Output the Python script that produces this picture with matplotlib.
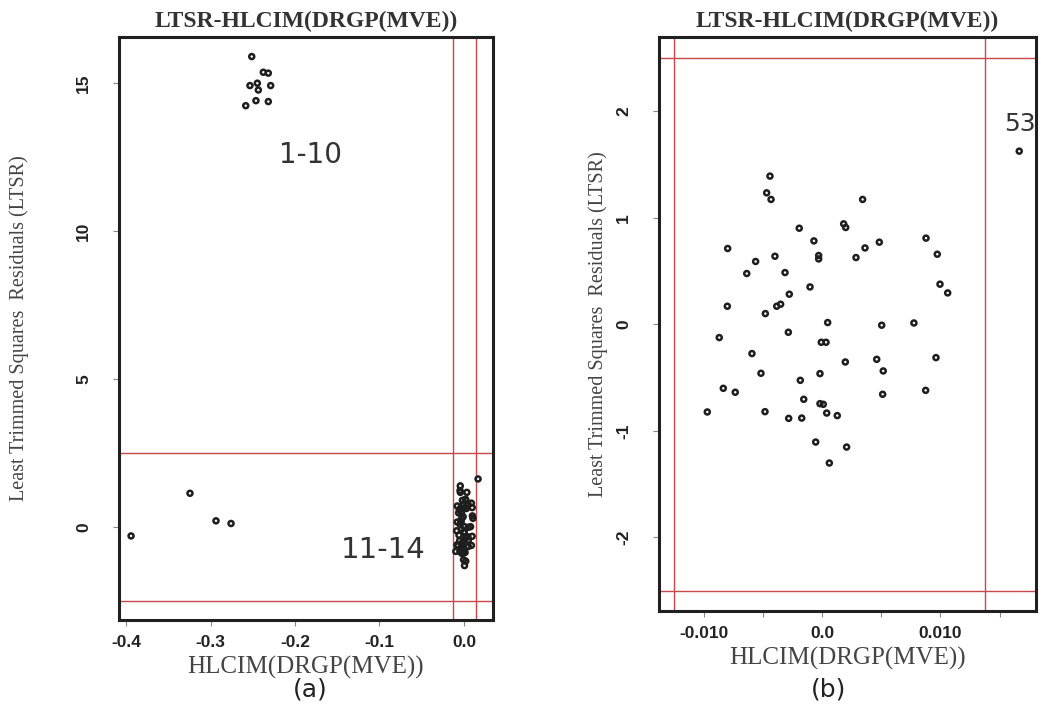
import matplotlib
matplotlib.use("Agg")
import matplotlib.pyplot as plt
import numpy as np

plt.rcParams["axes.unicode_minus"] = False

# ---- data ----
# panel (b): points near zero (HLCIM, LTSR)
near_x = [-0.00439, -0.00467, -0.00430, 0.00343, -0.00192, 0.00183, 0.00200,
          -0.00068, -0.00796, 0.00363, -0.00397, -0.00560, -0.00028, -0.00028,
          0.00287, -0.00635, -0.00312, -0.00101, -0.00276, -0.00799, -0.00382,
          -0.00349, -0.00478, 0.00048, -0.00867, -0.00284, -0.00006, 0.00034,
          -0.00591, 0.00197, -0.00515, -0.00017, -0.00183, -0.00833, -0.00732,
          -0.00154, -0.00017, 0.00011, -0.00968, -0.00481, 0.00040, 0.00129,
          -0.00281, -0.00171, -0.00053, 0.00208, 0.00062, 0.01665, 0.00484,
          0.00878, 0.00973, 0.00996, 0.01061, 0.00504, 0.00776, 0.00462,
          0.00517, 0.00962, 0.00512, 0.00875]
near_y = [1.390, 1.233, 1.171, 1.171, 0.901, 0.942, 0.908, 0.782, 0.711, 0.716,
          0.638, 0.589, 0.645, 0.613, 0.626, 0.476, 0.485, 0.350, 0.282, 0.169,
          0.169, 0.188, 0.100, 0.016, -0.125, -0.075, -0.169, -0.169, -0.275,
          -0.354, -0.460, -0.463, -0.526, -0.601, -0.638, -0.704, -0.745, -0.751,
          -0.823, -0.820, -0.833, -0.857, -0.883, -0.880, -1.105, -1.152, -1.302,
          1.624, 0.770, 0.808, 0.657, 0.376, 0.294, -0.009, 0.012, -0.329,
          -0.438, -0.313, -0.657, -0.620]

# panel (a): outlying observations 1-10 and 11-14
out1_x = [-0.2512, -0.2375, -0.2316, -0.2533, -0.2446, -0.2434, -0.2288,
          -0.2462, -0.2316, -0.2583]
out1_y = [15.89, 15.36, 15.33, 14.91, 14.99, 14.76, 14.91, 14.40, 14.37, 14.23]
out2_x = [-0.394, -0.3243, -0.2935, -0.2757]
out2_y = [-0.30, 1.14, 0.21, 0.12]

hcut = [-2.5, 2.5]
vcut = [-0.0125, 0.0138]

title = "LTSR-HLCIM(DRGP(MVE))"
xlabel = "HLCIM(DRGP(MVE))"
ylabel = "Least Trimmed Squares  Residuals (LTSR)"

a_xticks = [-0.4, -0.3, -0.2, -0.1, 0.0]
a_xticklabels = ["-0.4", "-0.3", "-0.2", "-0.1", "0.0"]
a_yticks = [0, 5, 10, 15]
b_xticks = [-0.010, -0.005, 0.0, 0.005, 0.010, 0.015]
b_xticklabels = ["-0.010", "", "0.0", "", "0.010", ""]
b_yticks = [-2, -1, 0, 1, 2]

# ---- figure ----
fig = plt.figure(figsize=(10.42, 7.13), dpi=100)
ax_a = fig.add_axes([0.1142, 0.1304, 0.3589, 0.8177])
ax_b = fig.add_axes([0.6324, 0.1431, 0.3618, 0.8050])

red = "#c8474a"
ptcol = "#1e1e1e"
serif = ["Liberation Serif", "DejaVu Serif"]
sansb = ["Liberation Sans", "DejaVu Sans"]

def style(ax, ylabelpad):
    for s in ax.spines.values():
        s.set_linewidth(2.2)
        s.set_color("#202020")
    ax.tick_params(direction="out", length=4, width=0.8, color="#888888",
                   labelsize=12.5)
    ax.tick_params(axis="x", pad=7)
    ax.tick_params(axis="y", pad=16)
    for lab in ax.get_xticklabels() + ax.get_yticklabels():
        lab.set_fontfamily(sansb)
        lab.set_fontweight("bold")
        lab.set_color("#222222")
    for lab in ax.get_yticklabels():
        lab.set_rotation(90)
        lab.set_va("center")
    ax.set_title(title, fontfamily=serif, fontweight="bold", fontsize=17,
                 color="#333333", pad=7)
    ax.set_xlabel(xlabel, fontfamily=serif, fontsize=18, color="#444444", labelpad=4)
    ax.set_ylabel(ylabel, fontfamily=serif, fontsize=14.5, color="#444444",
                  labelpad=ylabelpad)

def cutlines(ax):
    for h in hcut:
        ax.axhline(h, color=red, lw=1.0, zorder=1)
    for v in vcut:
        ax.axvline(v, color=red, lw=1.0, zorder=1)

mk = dict(marker="o", s=13, facecolors="none", edgecolors=ptcol, linewidths=1.8, zorder=3)

# panel (a)
cutlines(ax_a)
ax_a.scatter(out1_x + out2_x + near_x, out1_y + out2_y + near_y, **mk)
ax_a.set_xlim(-0.4083, 0.0343)
ax_a.set_ylim(-3.14, 16.55)
ax_a.set_xticks(a_xticks)
ax_a.set_xticklabels(a_xticklabels)
ax_a.set_yticks(a_yticks)
style(ax_a, 34)
ax_a.text(-0.182, 12.57, "1-10", fontsize=20, color="#333333", ha="center", va="center")
ax_a.text(-0.096, -0.78, "11-14", fontsize=21, color="#333333", ha="center", va="center")

# panel (b)
cutlines(ax_b)
ax_b.scatter(near_x, near_y, **mk)
ax_b.set_xlim(-0.01376, 0.01806)
ax_b.set_ylim(-2.69, 2.695)
ax_b.set_xticks(b_xticks)
ax_b.set_xticklabels(b_xticklabels)
ax_b.set_yticks(b_yticks)
style(ax_b, 6)
ax_b.text(0.0167, 1.88, "53", fontsize=18, color="#333333", ha="center", va="center")

fig.text(310 / 1042, 1 - 690 / 713, "(a)", fontsize=18, color="#222222",
         ha="center", va="center")
fig.text(829 / 1042, 1 - 690 / 713, "(b)", fontsize=18, color="#222222",
         ha="center", va="center")

fig.savefig("out.png", dpi=100)
